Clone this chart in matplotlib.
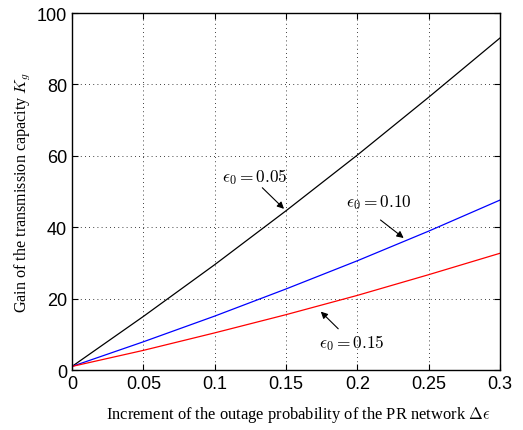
import matplotlib
matplotlib.use("Agg")
import matplotlib.pyplot as plt

# data
delta_eps = [0, 0.05, 0.1, 0.15, 0.2, 0.25, 0.3]
kg_005 = [1.0, 15.0, 29.5, 44.6, 60.2, 76.4, 93.0]
kg_010 = [1.0, 7.9, 15.1, 22.7, 30.6, 38.9, 47.6]
kg_015 = [1.0, 5.5, 10.4, 15.5, 20.9, 26.7, 32.7]

xticks = [0, 0.05, 0.1, 0.15, 0.2, 0.25, 0.3]
xticklabels = ["0", "0.05", "0.1", "0.15", "0.2", "0.25", "0.3"]
yticks = [0, 20, 40, 60, 80, 100]

plt.rcParams["mathtext.fontset"] = "cm"

fig = plt.figure(figsize=(5.23, 4.31), dpi=100)
ax = fig.add_axes([0.1377, 0.1392, 0.8183, 0.8283])

ax.plot(delta_eps, kg_005, color="black", lw=0.9)
ax.plot(delta_eps, kg_010, color="blue", lw=0.9)
ax.plot(delta_eps, kg_015, color="red", lw=0.9)

ax.set_xlim(0, 0.3)
ax.set_ylim(0, 100)
ax.set_xticks(xticks)
ax.set_xticklabels(xticklabels)
ax.set_yticks(yticks)
ax.tick_params(direction="in", top=True, right=True, labelsize=13, length=4,
               labelfontfamily="Liberation Sans")
ax.grid(True, linestyle=(0, (1, 4)), color="black", lw=0.6)
for s in ax.spines.values():
    s.set_linewidth(1.0)

ax.set_xlabel(r"Increment of the outage probability of the PR network $\Delta\epsilon$",
              fontsize=11.9, family="Liberation Serif")
ax.xaxis.set_label_coords(0.528, -0.095)
ax.set_ylabel(r"Gain of the transmission capacity $K_g$",
              fontsize=11.6, family="Liberation Serif", labelpad=3)

arrow = dict(arrowstyle="-|>", color="black", lw=0.8, mutation_scale=10)
ax.annotate("", xy=(0.15, 44.6), xytext=(0.132, 51.6), arrowprops=arrow)
ax.text(0.128, 54.3, r"$\epsilon_0 = 0.05$", fontsize=12.5, ha="center", va="center")
ax.annotate("", xy=(0.234, 36.5), xytext=(0.2147, 42.5), arrowprops=arrow)
ax.text(0.215, 47.1, r"$\epsilon_0 = 0.10$", fontsize=12.5, ha="center", va="center")
ax.annotate("", xy=(0.173, 16.9), xytext=(0.188, 11.0), arrowprops=arrow)
ax.text(0.196, 7.9, r"$\epsilon_0 = 0.15$", fontsize=12.5, ha="center", va="center")

fig.savefig("out.png", dpi=100)
